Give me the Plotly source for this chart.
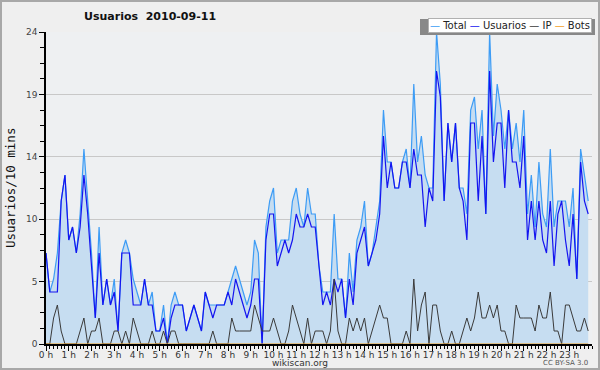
import plotly.graph_objects as go

# ---------------- data (10-minute slots, 0..143) ----------------
total = [7, 4, 5, 7, 11, 13, 8, 9, 7, 10, 15, 11, 7, 2, 9, 3, 5, 3, 5, 1, 7, 8, 7, 5, 4, 3, 5, 3, 4, 1, 1, 3, 0, 3, 4, 3,
         3, 1, 2, 3, 2, 1, 4, 3, 3, 3, 3, 3, 4, 5, 6, 5, 4, 3, 4, 8, 7, 0, 9, 11, 12, 7, 8, 8, 8, 11, 12, 10, 9, 12, 10,
         10, 6, 4, 4, 4, 10, 5, 5, 2, 7, 4, 8, 9, 11, 6, 7, 9, 11, 18, 14, 14, 12, 12, 14, 15, 12, 20, 14, 16, 13, 12, 12, 24, 20, 11,
         17, 14, 17, 12, 12, 10, 18, 19, 15, 18, 10, 24, 16, 20, 18, 15, 18, 15, 17, 14, 18, 10, 13, 9, 14, 10, 9, 15, 9, 11, 11, 11, 9, 12, 5, 15, 13, 11]
usuarios = [7, 4, 4, 4, 11, 13, 8, 9, 7, 9, 13, 10, 6, 2, 7, 3, 5, 3, 4, 1, 7, 7, 7, 3, 3, 3, 5, 3, 3, 1, 1, 2, 0, 2, 3, 3,
            3, 1, 2, 3, 2, 1, 4, 3, 2, 3, 3, 3, 4, 3, 5, 4, 3, 2, 3, 5, 5, 0, 8, 10, 10, 6, 7, 8, 7, 8, 10, 9, 9, 10, 9,
            9, 6, 3, 4, 3, 5, 4, 5, 2, 5, 3, 7, 8, 9, 6, 7, 8, 10, 16, 12, 14, 12, 12, 14, 14, 12, 15, 13, 13, 9, 12, 11, 21, 19, 11,
            17, 14, 17, 12, 11, 8, 17, 17, 11, 16, 10, 21, 14, 17, 17, 12, 18, 14, 14, 12, 16, 8, 11, 8, 11, 8, 7, 11, 6, 10, 11, 8, 6, 10, 5, 14, 11, 10]
ip = [0, 0, 2, 3, 1, 0, 0, 0, 0, 1, 2, 0, 1, 1, 2, 0, 0, 0, 1, 1, 0, 1, 0, 2, 1, 0, 0, 0, 1, 0, 0, 1, 0, 1, 1, 0,
      0, 0, 0, 0, 0, 0, 0, 0, 1, 0, 0, 0, 0, 2, 1, 1, 1, 1, 1, 3, 2, 1, 1, 1, 2, 1, 0, 0, 1, 3, 2, 1, 0, 2, 0,
      1, 1, 1, 0, 1, 5, 1, 0, 0, 2, 1, 2, 1, 2, 0, 1, 2, 3, 2, 2, 0, 0, 0, 0, 1, 0, 5, 1, 3, 4, 0, 3, 3, 1, 0,
      0, 1, 0, 0, 1, 2, 1, 2, 4, 2, 2, 3, 2, 3, 1, 1, 0, 0, 3, 2, 2, 2, 2, 1, 3, 2, 2, 4, 1, 1, 0, 3, 3, 2, 1, 1, 2, 1]
bots = [0] * 144

hours = [i / 6 for i in range(144)]
hour_ticks = list(range(24))
hour_labels = [f"{h} h" for h in hour_ticks]
y_tickvals = [0, 4.8, 9.6, 14.4, 19.2, 24]
y_ticktext = ["0", "5", "10", "14", "19", "24"]

series_names = ["Total", "Usuarios", "IP", "Bots"]
series_colors = ["#3d9cf5", "#1414f0", "#3a3a3a", "#f5a01e"]

# ---------------- geometry helpers ----------------
W, H = 600, 370
L, R, T, B = 46, 8, 32, 26
PW, PH = W - L - R, H - T - B
def xp(px):
    return (px - L) / PW
def yp(py):
    return (H - B - py) / PH

FONT = "DejaVu Sans"

fig = go.Figure()
fig.add_trace(go.Scatter(x=hours, y=total, name="Total", mode="lines",
                         line=dict(color=series_colors[0], width=1.2),
                         fill="tozeroy", fillcolor="#c6ddf1"))
fig.add_trace(go.Scatter(x=hours, y=usuarios, name="Usuarios", mode="lines",
                         line=dict(color=series_colors[1], width=1.2)))
fig.add_trace(go.Scatter(x=hours, y=ip, name="IP", mode="lines",
                         line=dict(color=series_colors[2], width=1)))
fig.add_trace(go.Scatter(x=hours, y=bots, name="Bots", mode="lines",
                         line=dict(color=series_colors[3], width=1)))

parts = []
for n, c in zip(series_names, series_colors):
    parts.append(f'<span style="color:{c}">—</span> {n}')
legend_text = " ".join(parts)

shapes = [
    dict(type="rect", xref="paper", yref="paper",
         x0=xp(1), x1=xp(599), y0=yp(369), y1=yp(1),
         line=dict(color="#a8a8a8", width=2), fillcolor="rgba(0,0,0,0)", layer="above"),
    dict(type="rect", xref="paper", yref="paper",
         x0=xp(420), x1=xp(595), y0=yp(35), y1=yp(19),
         line=dict(width=0), fillcolor="#888888", layer="above"),
]

annotations = [
    dict(text="<b>Usuarios  2010-09-11</b>", x=xp(150), y=yp(17), xref="paper", yref="paper",
         showarrow=False, xanchor="center", yanchor="middle",
         font=dict(family=FONT, size=11, color="#111")),
    dict(text=legend_text, x=xp(592), y=yp(18), xref="paper", yref="paper",
         showarrow=False, xanchor="right", yanchor="top",
         bgcolor="white", bordercolor="#b0b0b0", borderwidth=1, borderpad=1,
         font=dict(family=FONT, size=10, color="#222")),
    dict(text="Usuarios/10 mins", x=xp(10), y=yp(188), xref="paper", yref="paper",
         showarrow=False, xanchor="center", yanchor="middle", textangle=-90,
         font=dict(family="DejaVu Sans Mono", size=12.5, color="#111")),
    dict(text="wikiscan.org", x=xp(300), y=yp(363), xref="paper", yref="paper",
         showarrow=False, xanchor="center", yanchor="middle",
         font=dict(family=FONT, size=9, color="#333")),
    dict(text="CC BY-SA 3.0", x=xp(590), y=yp(363), xref="paper", yref="paper",
         showarrow=False, xanchor="right", yanchor="middle",
         font=dict(family=FONT, size=7, color="#555")),
]

fig.update_layout(
    width=W, height=H,
    margin=dict(l=L, r=R, t=T, b=B, pad=0, autoexpand=False),
    paper_bgcolor="#efefef",
    plot_bgcolor="#eef0f2",
    showlegend=False,
    shapes=shapes,
    annotations=annotations,
    xaxis=dict(range=[0, 24], tickvals=hour_ticks, ticktext=hour_labels, automargin=False,
               ticks="outside", ticklen=5, tickcolor="black", tickwidth=1,
               ticklabelstandoff=-4,
               minor=dict(dtick=1 / 6, tick0=0, ticks="outside", ticklen=3, tickcolor="black"),
               showgrid=False, zeroline=False,
               showline=True, linecolor="black", linewidth=1.5,
               tickfont=dict(family=FONT, size=9, color="#333"), fixedrange=True),
    yaxis=dict(range=[0, 24], tickvals=y_tickvals, ticktext=y_ticktext, automargin=False,
               ticks="outside", ticklen=5, tickcolor="black",
               minor=dict(dtick=1.2, tick0=0, ticks="outside", ticklen=4, tickcolor="black"),
               showgrid=True, gridcolor="#c8c8c8", gridwidth=1, zeroline=False,
               showline=True, linecolor="black", linewidth=1.5,
               tickfont=dict(family=FONT, size=9, color="#444"), fixedrange=True),
)

fig.write_html("out.html", config={"displayModeBar": False},
               post_script="document.body.style.margin='0';document.body.style.overflow='hidden';")
